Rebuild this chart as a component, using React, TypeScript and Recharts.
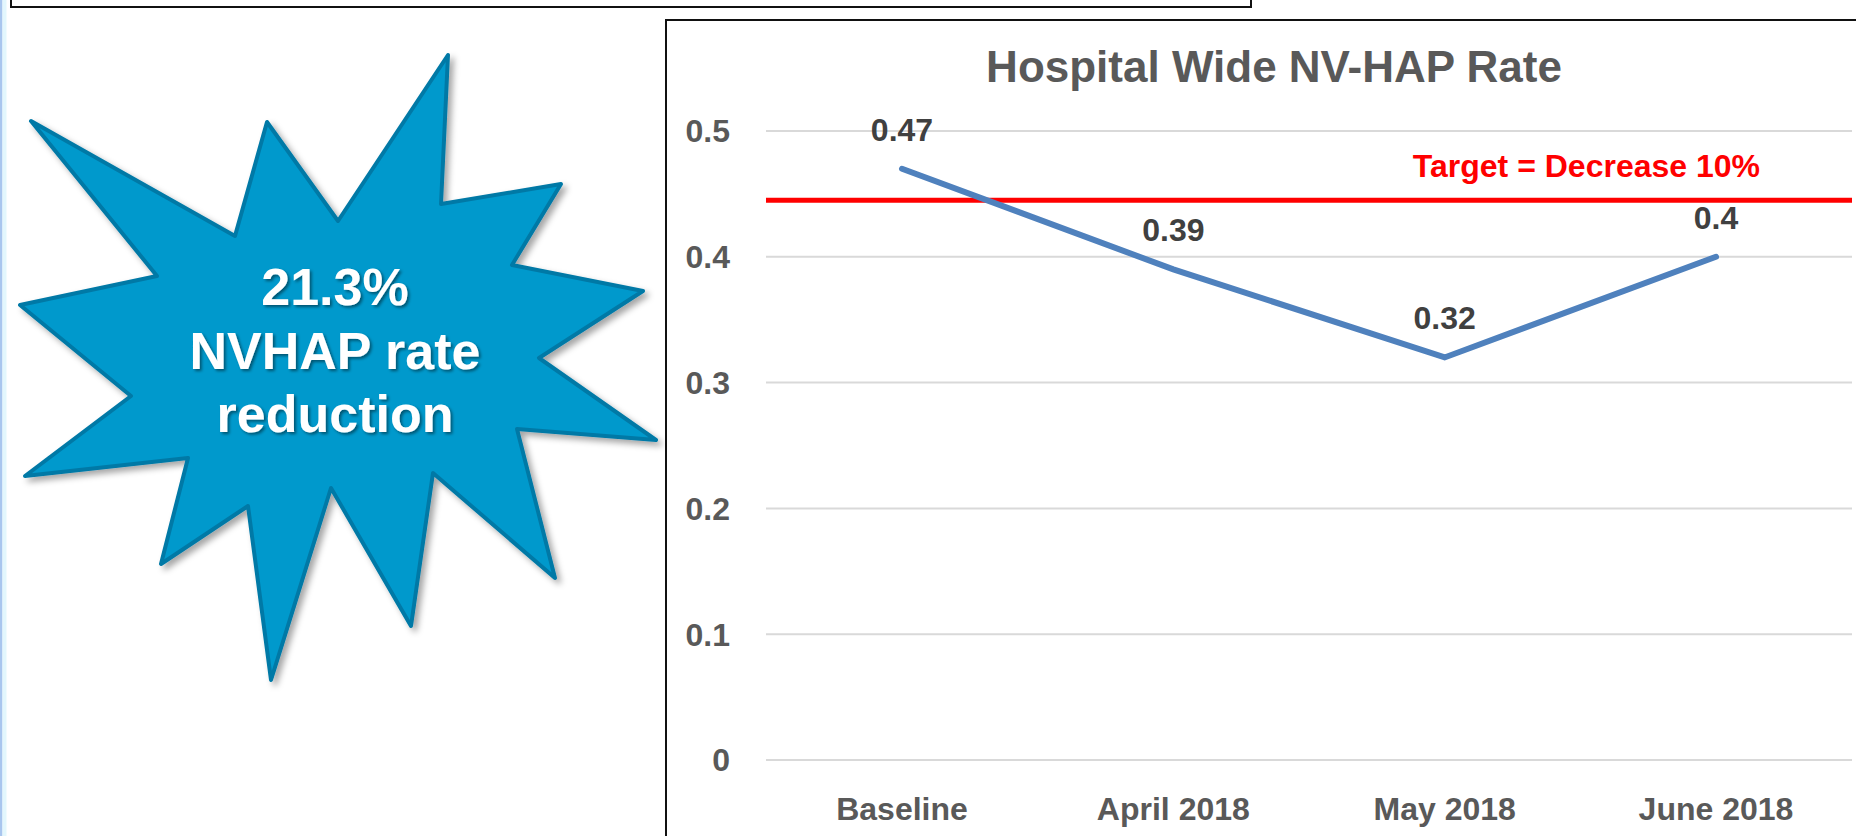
import React from "react";
import {
  LineChart,
  Line,
  XAxis,
  YAxis,
  CartesianGrid,
  ReferenceLine,
  LabelList,
} from "recharts";

const categories = ["Baseline", "April 2018", "May 2018", "June 2018"];
const rates = [0.47, 0.39, 0.32, 0.4];
const yTicks = [0, 0.1, 0.2, 0.3, 0.4, 0.5];
const target = 0.445;
const title = "Hospital Wide NV-HAP Rate";
const targetText = "Target = Decrease 10%";
const starLines = ["21.3%", "NVHAP rate", "reduction"];

const data = categories.map((name, i) => ({ name, rate: rates[i] }));

const FONT = "'Liberation Sans', Arial, sans-serif";
const gray = "#595959";

// starburst outline, clockwise from the top spike
const starPoints = [
  [448, 55], [441, 204], [561, 184], [512, 265], [643, 291], [539, 358],
  [656, 440], [517, 429], [555, 578], [433, 473], [411, 626], [331, 488],
  [271, 680], [248, 506], [161, 564], [188, 458], [25, 476], [131, 396],
  [20, 305], [157, 276], [31, 121], [235, 236], [267, 122], [338, 221],
];

function TargetLabel(props: any) {
  const { viewBox } = props;
  if (!viewBox) return null;
  return (
    <text
      x={viewBox.x + viewBox.width - 92}
      y={viewBox.y - 23}
      textAnchor="end"
      fill="#ff0000"
      fontFamily={FONT}
      fontWeight="bold"
      fontSize={32}
    >
      {targetText}
    </text>
  );
}

export default function App() {
  return (
    <div
      style={{
        position: "absolute",
        left: 0,
        top: 0,
        width: 1856,
        height: 836,
        overflow: "hidden",
        background: "#fff",
      }}
    >
      <svg width={1856} height={836} style={{ position: "absolute", left: 0, top: 0 }}>
        <defs>
          <filter id="shadow" x="-10%" y="-10%" width="130%" height="130%">
            <feDropShadow dx="4" dy="4" stdDeviation="3" floodColor="#000" floodOpacity="0.35" />
          </filter>
          <filter id="txtShadow" x="-10%" y="-10%" width="130%" height="130%">
            <feDropShadow dx="2" dy="2" stdDeviation="1.5" floodColor="#000" floodOpacity="0.45" />
          </filter>
        </defs>
        <rect x={0} y={0} width={2.5} height={836} fill="#a9c6ee" />
        <rect x={2.5} y={0} width={4} height={836} fill="#e3f7fd" />
        <rect x={11} y={-20} width={1240} height={27} fill="none" stroke="#111" strokeWidth={2} />
        <polygon
          points={starPoints.map((p) => p.join(",")).join(" ")}
          fill="#0099cc"
          stroke="#0079a6"
          strokeWidth={4}
          strokeLinejoin="round"
          filter="url(#shadow)"
        />
        <g filter="url(#txtShadow)">
          {starLines.map((s, i) => (
            <text
              key={s}
              x={335}
              y={305 + i * 63.5}
              textAnchor="middle"
              fill="#fff"
              fontFamily={FONT}
              fontWeight="bold"
              fontSize={52}
            >
              {s}
            </text>
          ))}
        </g>
        <rect x={666} y={20} width={1400} height={1000} fill="none" stroke="#111" strokeWidth={2} />
        <text
          x={1274}
          y={82}
          textAnchor="middle"
          fill={gray}
          fontFamily={FONT}
          fontWeight="bold"
          fontSize={44}
        >
          {title}
        </text>
      </svg>
      <div style={{ position: "absolute", left: 666, top: 20 }}>
        <LineChart
          width={1190}
          height={816}
          data={data}
          margin={{ top: 111, right: 4, left: 0, bottom: 0 }}
        >
          <CartesianGrid vertical={false} stroke="#d9d9d9" strokeWidth={2} />
          <XAxis
            dataKey="name"
            axisLine={false}
            tickLine={false}
            tickSize={0}
            tickMargin={37}
            height={76}
            padding={{ left: 136, right: 136 }}
            tick={{ fill: gray, fontSize: 32, fontWeight: "bold", fontFamily: FONT }}
          />
          <YAxis
            domain={[0, 0.5]}
            ticks={yTicks}
            width={100}
            axisLine={false}
            tickLine={false}
            tickSize={0}
            tickMargin={36}
            tick={{ fill: gray, fontSize: 32, fontWeight: "bold", fontFamily: FONT }}
          />
          <ReferenceLine y={target} stroke="#ff0000" strokeWidth={5} label={<TargetLabel />} />
          <Line
            type="linear"
            dataKey="rate"
            stroke="#4f81bd"
            strokeWidth={6}
            strokeLinecap="round"
            dot={false}
            activeDot={false}
            isAnimationActive={false}
          >
            <LabelList
              dataKey="rate"
              position="top"
              offset={28}
              fill="#404040"
              fontSize={32}
              fontWeight="bold"
              fontFamily={FONT}
            />
          </Line>
        </LineChart>
      </div>
    </div>
  );
}
